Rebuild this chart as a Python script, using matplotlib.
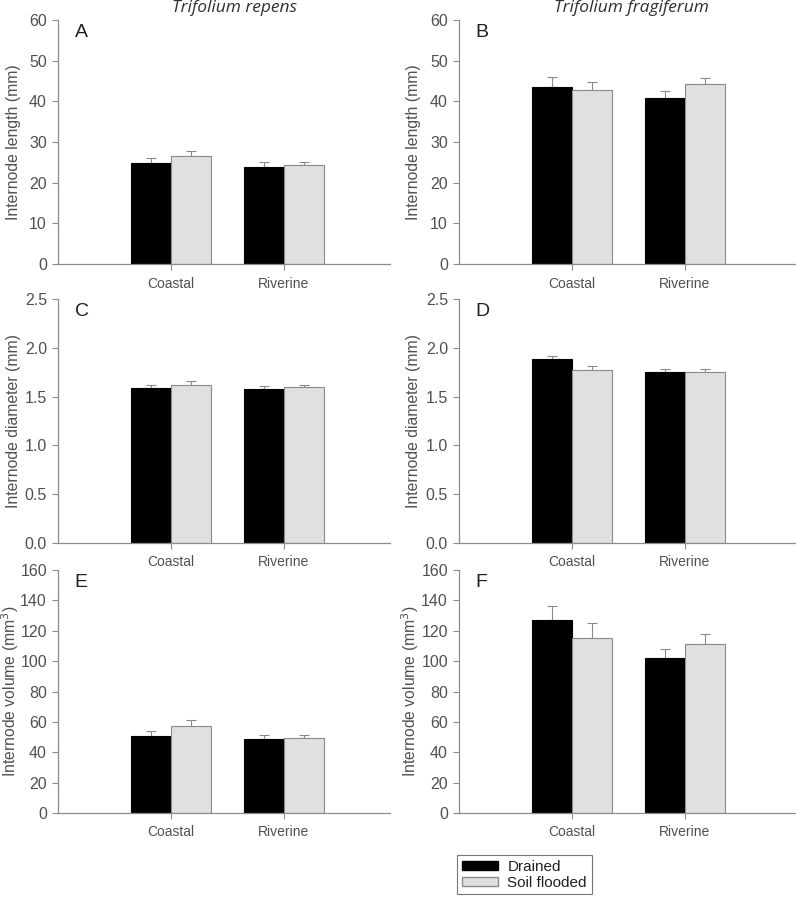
import numpy as np
import matplotlib.pyplot as plt
from matplotlib.patches import Patch

plt.rcParams['font.family'] = ['Liberation Sans', 'DejaVu Sans']

sites = ['Coastal', 'Riverine']

# panel A: T. repens internode length
a_drained = [24.9, 23.9]
a_drained_err = [1.1, 1.1]
a_flooded = [26.6, 24.3]
a_flooded_err = [1.2, 0.7]

# panel B: T. fragiferum internode length
b_drained = [43.6, 40.7]
b_drained_err = [2.4, 1.8]
b_flooded = [42.7, 44.2]
b_flooded_err = [2.1, 1.6]

# panel C: T. repens internode diameter
c_drained = [1.588, 1.578]
c_drained_err = [0.03, 0.027]
c_flooded = [1.622, 1.602]
c_flooded_err = [0.038, 0.018]

# panel D: T. fragiferum internode diameter
d_drained = [1.885, 1.755]
d_drained_err = [0.031, 0.024]
d_flooded = [1.776, 1.752]
d_flooded_err = [0.038, 0.031]

# panel E: T. repens internode volume
e_drained = [50.9, 48.5]
e_drained_err = [3.1, 3.1]
e_flooded = [57.5, 49.6]
e_flooded_err = [3.7, 1.8]

# panel F: T. fragiferum internode volume
f_drained = [127.3, 102.3]
f_drained_err = [9.2, 5.9]
f_flooded = [115.0, 111.5]
f_flooded_err = [10.3, 6.6]

panels = [
    ('A', a_drained, a_drained_err, a_flooded, a_flooded_err, 'Internode length (mm)', 60, 10, '%d'),
    ('B', b_drained, b_drained_err, b_flooded, b_flooded_err, 'Internode length (mm)', 60, 10, '%d'),
    ('C', c_drained, c_drained_err, c_flooded, c_flooded_err, 'Internode diameter (mm)', 2.5, 0.5, '%.1f'),
    ('D', d_drained, d_drained_err, d_flooded, d_flooded_err, 'Internode diameter (mm)', 2.5, 0.5, '%.1f'),
    ('E', e_drained, e_drained_err, e_flooded, e_flooded_err, 'Internode volume (mm$^3$)', 160, 20, '%d'),
    ('F', f_drained, f_drained_err, f_flooded, f_flooded_err, 'Internode volume (mm$^3$)', 160, 20, '%d'),
]

W, H = 796, 900
fig = plt.figure(figsize=(W / 100, H / 100), dpi=100)

col_x = [(58, 390), (459, 795)]
label_x = [21, 421]  # right edge of the rotated y label, in pixels
row_y = [(20, 264), (299, 543), (570, 813)]
spacing = 113.0

axis_col = '#8c8c8c'
text_col = '#505050'
x = np.arange(1, len(sites) + 1)
bw = 0.35

for i, (letter, dr, dr_err, fl, fl_err, ylab, ymax, ystep, fmt) in enumerate(panels):
    r, c = divmod(i, 2)
    x0, x1 = col_x[c]
    y0, y1 = row_y[r]
    ax = fig.add_axes([x0 / W, 1 - y1 / H, (x1 - x0) / W, (y1 - y0) / H])

    ax.bar(x - bw / 2, dr, bw, color='black', edgecolor='black', linewidth=0.8, zorder=2)
    ax.bar(x + bw / 2, fl, bw, color='#e0e0e0', edgecolor='#8a8a8a', linewidth=0.8, zorder=2)
    ax.errorbar(x - bw / 2, dr, yerr=[np.zeros(2), dr_err], fmt='none', ecolor='#8a8a8a',
                elinewidth=0.8, capsize=3.5, capthick=0.8, zorder=1)
    ax.errorbar(x + bw / 2, fl, yerr=[np.zeros(2), fl_err], fmt='none', ecolor='#8a8a8a',
                elinewidth=0.8, capsize=3.5, capthick=0.8, zorder=1)

    ax.set_xlim(0, (x1 - x0) / spacing)
    ax.set_ylim(0, ymax)
    ax.set_yticks(np.arange(0, ymax + ystep / 2, ystep))
    ax.yaxis.set_major_formatter(plt.FormatStrFormatter(fmt))
    ax.set_xticks(x)
    ax.set_xticklabels(sites)

    for s in ['top', 'right']:
        ax.spines[s].set_visible(False)
    for s in ['left', 'bottom']:
        ax.spines[s].set_color(axis_col)
        ax.spines[s].set_linewidth(0.9)
    ax.tick_params(colors=axis_col, labelcolor=text_col, length=4, width=0.8)
    ax.tick_params(axis='x', labelsize=10, pad=5)
    ax.tick_params(axis='y', labelsize=11.5, pad=4)
    ax.set_ylabel(ylab, fontsize=11.3, color=text_col)
    ax.yaxis.set_label_coords((label_x[c] - x0) / (x1 - x0), 0.5)
    ax.text(0.05, 0.985, letter, transform=ax.transAxes, fontsize=14, color='#202020',
            va='top', ha='left')

fig.text(235 / W, 1 - 8 / H, 'Trifolium repens', fontsize=12.5, style='italic', family='Open Sans',
         color='#303030', ha='center', va='center')
fig.text(631 / W, 1 - 8 / H, 'Trifolium fragiferum', fontsize=12.5, style='italic', family='Open Sans',
         color='#303030', ha='center', va='center')

handles = [Patch(facecolor='black', edgecolor='black'),
           Patch(facecolor='#e0e0e0', edgecolor='#8a8a8a')]
leg = fig.legend(handles, ['Drained', 'Soil flooded'], loc='upper left',
                 bbox_to_anchor=(457 / W, 1 - 855 / H), fontsize=11, frameon=True, fancybox=False,
                 handlelength=2.4, handleheight=0.5, handletextpad=0.6, borderpad=0.3,
                 labelspacing=0.15, borderaxespad=0)
leg.get_frame().set_edgecolor('#555555')
leg.get_frame().set_linewidth(0.8)
for t in leg.get_texts():
    t.set_color('#202020')

fig.savefig('out.png', dpi=100)
